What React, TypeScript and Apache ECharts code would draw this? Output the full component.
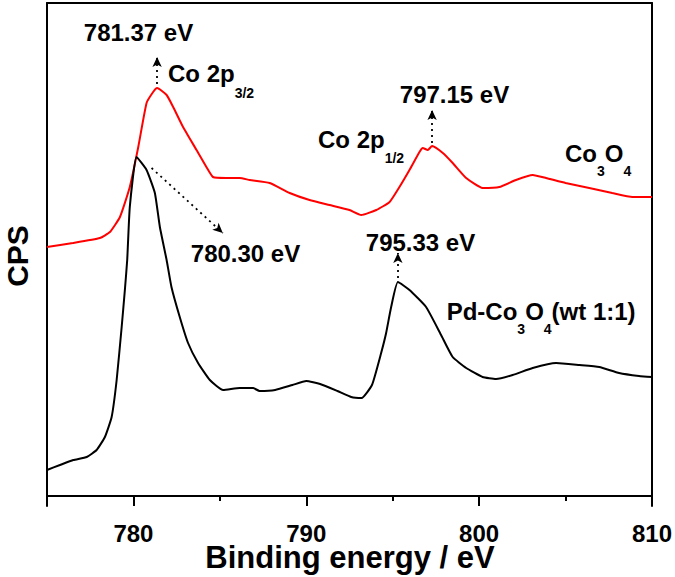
import React, { useEffect, useRef } from "react";
import * as echarts from "echarts";

const FONT = '"Liberation Sans", Arial, Helvetica, sans-serif';

// X axis
const xMin = 775;
const xMax = 810;
const xTickInterval = 5;
const xLabelStep = 10;
const majorTickValues = [780, 790, 800];
const minorTickValues = [785, 795, 805];
const majorTickLen = 10;
const minorTickLen = 5;

// Co3O4 (red)
const redEnergy = [775.0, 776.5, 778.06, 778.64, 779.22, 779.79, 780.28, 780.76, 781.14, 781.37, 781.92, 782.3, 782.87, 783.65, 784.22, 784.6, 785.38, 786.15, 786.73, 787.88, 789.04, 790.19, 791.35, 792.5, 793.18, 794.05, 794.82, 795.39, 795.97, 796.55, 796.74, 797.03, 797.28, 797.9, 798.47, 799.25, 800.2, 801.17, 802.13, 803.1, 803.87, 805.0, 806.37, 807.7, 808.87, 810];
const redCps = [249, 253, 258, 264, 279, 309, 349, 393, 404, 408, 401, 389, 369, 346, 329, 319, 318, 318, 316, 313, 303, 296, 291, 286, 281, 286, 294, 309, 326, 344, 348, 346, 350, 343, 333, 318, 308, 309, 316, 321, 318, 313, 308, 303, 299, 299];

// Pd-Co3O4 (black)
const blackEnergy = [775, 775.75, 776.52, 777.3, 777.87, 778.35, 778.74, 779.03, 779.32, 779.5, 779.64, 779.79, 780.18, 780.76, 781.24, 781.53, 781.92, 782.2, 782.68, 783.16, 783.74, 784.42, 785.19, 786.15, 786.92, 787.3, 788.2, 789.2, 790.0, 790.8, 791.8, 792.6, 793.2, 793.8, 794.3, 794.62, 794.91, 795.3, 795.97, 796.93, 797.8, 798.47, 799.25, 800.2, 800.98, 801.94, 803.1, 804.45, 805.8, 806.95, 808.1, 809.25, 810];
const blackCps = [26, 31, 36, 39, 46, 59, 79, 116, 169, 205, 236, 289, 339, 326, 303, 269, 236, 209, 179, 153, 133, 116, 106, 108, 108, 105, 106, 111, 115, 112, 105, 99, 98, 111, 141, 163, 189, 214, 206, 189, 161, 139, 128, 119, 117, 121, 128, 133, 131, 129, 123, 120, 119];

const yMin = -10;
const yMax = 493;

// Peak arrows: [fromEnergy, fromCps, toEnergy, toCps]
const peakArrows = [
  [781.37, 412, 781.37, 439],
  [781.05, 328, 785.17, 263],
  [797.28, 353, 797.28, 386],
  [795.3, 218, 795.3, 243],
];

const pairs = (xs: number[], ys: number[]) => xs.map((x, i) => [x, ys[i]]);

const tickSegments = [
  ...majorTickValues.map((v) => [{ coord: [v, 0] }, { coord: [v, -majorTickLen] }]),
  ...minorTickValues.map((v) => [{ coord: [v, 0] }, { coord: [v, -minorTickLen] }]),
];

const mainStyle = {
  fontFamily: FONT,
  fontSize: 24,
  fontWeight: "bold",
  fill: "#000",
  lineHeight: 30,
  verticalAlign: "top",
};
const subStyle = (pad: number) => ({
  fontFamily: FONT,
  fontSize: 14,
  fontWeight: "bold",
  fill: "#000",
  lineHeight: 14,
  verticalAlign: "top",
  padding: [pad, 0, 0, 0],
});

const richLabel = (x: number, capCenter: number, text: string, offset: number) => ({
  type: "text",
  x,
  y: capCenter - 15,
  silent: true,
  style: {
    text,
    align: "left",
    verticalAlign: "top",
    rich: { m: mainStyle, s: subStyle(8 + offset) },
  },
});

const plainLabel = (cx: number, cy: number, text: string, size = 24, rotation = 0) => ({
  type: "text",
  x: cx,
  y: cy,
  rotation,
  silent: true,
  style: {
    text,
    align: "center",
    verticalAlign: "middle",
    fontFamily: FONT,
    fontSize: size,
    fontWeight: "bold",
    fill: "#000",
  },
});

export default function App() {
  const ref = useRef<HTMLDivElement>(null);
  useEffect(() => {
    if (!ref.current) return;
    const chart = echarts.init(ref.current, undefined, { renderer: "svg" });
    chart.setOption({
      animation: false,
      grid: { left: 47, right: 22, top: 3, bottom: 71 },
      xAxis: [
        {
          type: "value",
          min: xMin,
          max: xMax,
          position: "bottom",
          interval: xTickInterval,
          axisLine: { show: true, onZero: true, lineStyle: { color: "#000", width: 2 } },
          axisTick: { show: false },
          axisLabel: {
            show: true,
            margin: 15,
            color: "#000",
            fontFamily: FONT,
            fontSize: 24,
            fontWeight: "bold",
            formatter: (v: number) =>
              v > xMin && Math.round(v) % xLabelStep === 0 ? String(Math.round(v)) : "",
          },
          splitLine: { show: false },
        },
        {
          type: "value",
          min: xMin,
          max: xMax,
          position: "top",
          axisLine: { show: true, onZero: false, lineStyle: { color: "#000", width: 2 } },
          axisTick: { show: false },
          axisLabel: { show: false },
          splitLine: { show: false },
        },
      ],
      yAxis: [
        {
          type: "value",
          min: yMin,
          max: yMax,
          position: "left",
          axisLine: { show: true, onZero: false, lineStyle: { color: "#000", width: 2 } },
          axisTick: { show: false },
          axisLabel: { show: false },
          splitLine: { show: false },
        },
        {
          type: "value",
          min: yMin,
          max: yMax,
          position: "right",
          axisLine: { show: true, onZero: false, lineStyle: { color: "#000", width: 2 } },
          axisTick: { show: false },
          axisLabel: { show: false },
          splitLine: { show: false },
        },
      ],
      series: [
        {
          type: "line",
          name: "Co3O4",
          xAxisIndex: 0,
          yAxisIndex: 0,
          data: pairs(redEnergy, redCps),
          showSymbol: false,
          symbol: "none",
          smooth: 0.15,
          clip: false,
          lineStyle: { color: "#ff0000", width: 2 },
          silent: true,
          markLine: {
            silent: true,
            symbol: ["none", "none"],
            label: { show: false },
            lineStyle: { color: "#000", width: 2, type: "solid" },
            data: tickSegments,
          },
        },
        {
          type: "line",
          name: "Pd-Co3O4",
          xAxisIndex: 0,
          yAxisIndex: 0,
          data: pairs(blackEnergy, blackCps),
          showSymbol: false,
          symbol: "none",
          smooth: 0.15,
          lineStyle: { color: "#000", width: 2 },
          silent: true,
          markLine: {
            silent: true,
            symbol: ["none", "arrow"],
            symbolSize: [7, 10],
            label: { show: false },
            lineStyle: { color: "#000", width: 1.8, type: [2, 4] },
            data: peakArrows.map((a) => [
              { coord: [a[0], a[1]] },
              { coord: [a[2], a[3]] },
            ]),
          },
        },
      ],
      graphic: [
        plainLabel(138.5, 32, "781.37 eV"),
        richLabel(168, 76, "{m|Co 2p}{s|3/2}", 16.5),
        plainLabel(245.5, 253, "780.30 eV"),
        richLabel(318, 142.5, "{m|Co 2p}{s|1/2}", 15),
        plainLabel(454.5, 94, "797.15 eV"),
        richLabel(565, 156.5, "{m|Co}{s|3}{m|O}{s|4}", 14.5),
        plainLabel(420.5, 242, "795.33 eV"),
        richLabel(446.7, 314, "{m|Pd-Co}{s|3}{m|O}{s|4}{m|(wt 1:1)}", 15),
        plainLabel(17, 256, "CPS", 30, Math.PI / 2),
        plainLabel(350, 557, "Binding energy / eV", 31),
      ],
    });
    return () => chart.dispose();
  }, []);
  return (
    <div
      ref={ref}
      style={{ position: "absolute", left: 0, top: 0, width: 675, height: 577 }}
    />
  );
}
